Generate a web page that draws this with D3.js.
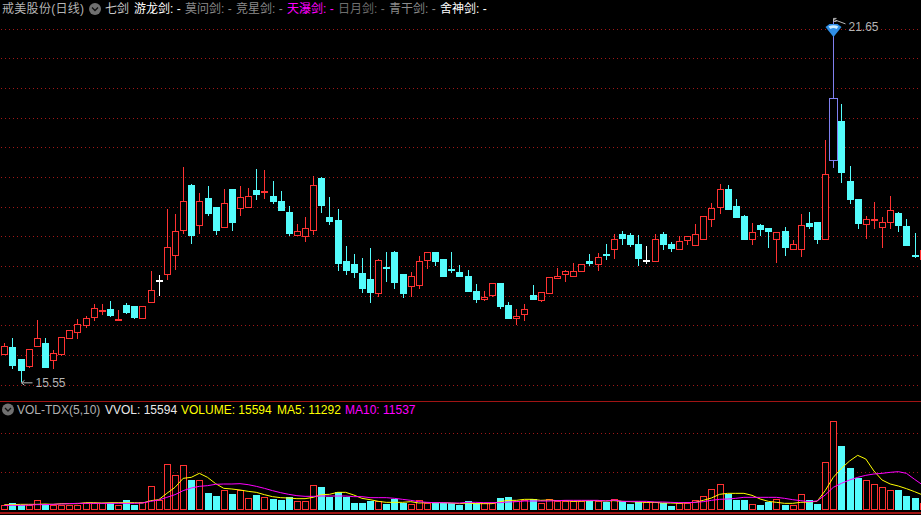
<!DOCTYPE html>
<html><head><meta charset="utf-8">
<script src="https://cdn.jsdelivr.net/npm/d3@7/dist/d3.min.js"></script>
<style>html,body{margin:0;padding:0;background:#000;overflow:hidden}svg{display:block}text{font-family:"Liberation Sans","Noto Sans CJK SC",sans-serif}</style>
</head><body><svg id="c" width="921" height="515"></svg>
<script>
const opens=[16.02,16.15,15.94,15.83,16.15,16.21,15.92,16.03,16.30,16.39,16.51,16.64,16.76,16.79,16.61,16.85,16.84,16.64,16.89,17.28,17.38,17.70,18.11,18.88,18.19,18.66,18.51,18.17,18.81,18.48,18.51,18.79,18.77,18.69,18.61,18.42,18.04,18.01,18.11,18.99,18.34,18.29,17.60,17.54,17.39,17.29,17.06,17.49,17.75,17.38,17.17,17.19,17.61,17.75,17.63,17.46,17.41,17.34,17.09,16.95,17.01,17.23,16.85,16.62,16.69,17.02,16.94,17.05,17.31,17.37,17.33,17.43,17.60,17.55,17.71,17.79,18.05,18.03,17.88,17.61,17.60,18.05,17.88,17.80,17.94,17.87,17.96,18.29,18.49,18.81,18.52,18.35,17.97,18.20,18.15,17.97,18.10,17.79,17.80,18.24,18.25,17.97,19.30,19.96,18.94,18.64,18.21,18.29,18.17,18.24,18.40,18.19,17.70,17.63];
const highs=[16.21,16.30,15.94,16.11,16.60,16.30,16.10,16.31,16.44,16.62,16.67,16.87,16.87,16.92,16.77,16.89,16.84,16.84,17.43,17.36,18.47,18.39,19.18,18.89,18.74,18.86,18.51,18.81,18.81,18.86,18.83,19.15,19.13,18.94,18.78,18.52,18.22,18.34,19.03,19.01,18.67,18.47,17.85,17.71,17.65,17.81,17.63,17.75,17.76,17.38,17.41,17.68,17.74,17.75,17.63,17.75,17.53,17.44,17.21,17.09,17.22,17.23,16.90,16.79,16.87,17.19,17.07,17.32,17.48,17.44,17.56,17.54,17.71,17.73,17.88,18.05,18.10,18.07,18.03,17.85,18.05,18.08,17.92,18.02,18.01,18.22,18.35,18.57,18.89,18.88,18.64,18.37,18.24,18.22,18.15,18.08,18.17,17.95,18.39,18.42,18.25,19.63,21.65,20.24,19.20,18.64,18.35,18.59,18.34,18.69,18.42,18.30,18.07,17.78];
const lows=[16.02,15.78,15.55,15.80,16.15,15.80,15.78,16.00,16.28,16.28,16.47,16.58,16.69,16.65,16.58,16.71,16.62,16.64,16.89,17.01,17.28,17.44,18.05,17.88,18.05,18.35,18.03,18.17,18.10,18.35,18.49,18.62,18.64,18.56,18.44,18.02,18.01,17.92,18.03,18.40,18.20,17.43,17.36,17.31,17.06,16.89,16.99,17.24,17.12,16.97,16.99,17.12,17.46,17.51,17.33,17.39,17.33,17.09,16.89,16.92,16.99,16.79,16.63,16.52,16.58,16.94,16.90,17.05,17.29,17.24,17.33,17.43,17.51,17.43,17.61,17.63,17.87,17.83,17.51,17.54,17.58,17.78,17.75,17.80,17.87,17.87,17.96,18.17,18.39,18.46,18.34,17.97,17.87,18.02,17.81,17.56,17.68,17.79,17.66,18.13,17.88,17.97,19.16,18.91,18.56,18.13,17.97,18.13,17.81,18.13,18.08,17.87,17.65,17.63];
const closes=[16.16,15.85,15.76,16.11,16.29,15.80,16.04,16.31,16.44,16.53,16.63,16.80,16.77,16.69,16.62,16.74,16.65,16.84,17.10,17.28,17.83,18.10,18.60,18.04,18.60,18.40,18.13,18.57,18.25,18.67,18.69,18.72,18.78,18.61,18.46,18.07,18.10,18.15,18.87,18.54,18.27,17.56,17.44,17.41,17.14,17.07,17.61,17.48,17.24,17.06,17.34,17.59,17.74,17.60,17.34,17.45,17.34,17.09,16.96,16.98,17.22,16.85,16.63,16.66,16.78,16.96,17.07,17.32,17.35,17.42,17.42,17.54,17.56,17.67,17.70,17.96,17.98,17.88,17.65,17.61,17.97,17.88,17.81,17.94,18.01,18.05,18.35,18.48,18.80,18.47,18.34,17.97,18.08,18.13,18.10,18.08,17.83,17.88,18.20,18.19,17.97,19.06,20.34,19.10,18.64,18.24,18.30,18.30,18.25,18.45,18.19,17.87,17.69,17.78];
const volumes=[4080,5760,4080,4080,7680,5040,4080,4560,4560,4560,6000,5760,5520,5520,4560,7920,4560,6480,17760,7920,33600,25920,32880,22320,22080,12960,10800,14880,12240,14880,9120,11520,9840,8640,7920,9840,6960,6960,18480,17280,10080,13680,10080,5760,5760,7200,7200,5040,8640,5760,4800,7680,5760,5760,5760,5760,4320,7200,5760,5520,5760,9360,10080,6960,7920,8640,5760,8400,7200,7200,7200,7200,7200,7200,6480,8400,7200,5040,6480,6480,6240,5760,3600,5760,5760,7680,10560,15600,19200,12240,7920,7920,4800,4320,6480,8400,4320,4080,12000,7920,5040,35040,64560,46800,30960,23760,22080,19200,17040,14880,15120,10800,9360,5520];
const ma5=[4560,4560,4800,4800,4800,5040,4800,5280,5280,5280,6000,6000,5760,6000,6000,6000,6000,5760,7440,8160,12720,17040,23520,24240,27120,24240,19680,16320,15840,15120,14160,13440,11760,10320,9600,9360,8880,8880,9840,11760,12000,13440,13440,11520,9120,8160,6960,6240,6240,6240,6720,5760,6000,6000,6000,5760,5280,5760,5280,5280,5280,6720,7680,7680,8400,8400,7680,7920,7440,7440,6960,7200,7440,7440,7200,7440,6960,6720,6480,6240,6240,5760,5760,5520,6000,6240,7680,9360,12000,12720,12720,12720,11280,8640,6960,6240,5520,5520,6240,6480,6960,14640,24240,30720,36000,40080,37440,28800,22320,19440,18000,16080,13920,11520];
const ma10=[4080,4080,4080,4320,4560,4560,4800,5040,5280,5520,5520,5520,5520,5520,5520,5520,5520,5760,6960,7920,9840,11760,14640,16560,17760,18240,19200,19440,19440,19680,18960,17760,16320,14640,13200,12000,11040,10560,10560,10800,10800,10800,10800,10320,10320,9600,9600,9600,9120,8400,7680,6720,6240,6000,6000,5760,5760,6240,6240,6000,6000,6000,6480,6720,7200,7200,7200,7200,7440,7680,7680,7680,7680,7680,7200,7920,6960,6960,6960,6960,6480,6480,6240,6000,6000,6240,6720,7680,8400,8640,9120,9840,9840,9840,9840,9840,9120,8160,7440,6720,7200,11520,17040,19920,22320,24240,25680,26640,27120,27840,28320,27120,22800,18720];
const priceGrid=[15.5,16,16.5,17,17.5,18,18.5,19,19.5,20,20.5,21,21.5];
const volGrid=[28080,56160];
const headerLeft="戒美股份(日线)", swordMenu="七剑";
const swords=[["游龙剑: -","#ffffff"],["莫问剑: -","#8a8a8a"],["竞星剑: -","#8a8a8a"],["天瀑剑: -","#ff00ff"],["日月剑: -","#6e6e6e"],["青干剑: -","#8a8a8a"],["舍神剑: -","#ffffff"]];
const legend=[["VOL-TDX(5,10)","#b0b0b0"],["VVOL: 15594","#e8e8e8"],["VOLUME: 15594","#ffff00"],["MA5: 11292","#ffff00"],["MA10: 11537","#ff00ff"]];

const svg=d3.select("#c");
svg.append("rect").attr("width",921).attr("height",515).attr("fill","#000");
const idx=d3.range(opens.length);
const x=d3.scaleLinear().domain([0,opens.length-1]).range([4.33,922.7]);
const px=i=>Math.round(x(i))+.5;
const y=d3.scaleLinear().domain([15.5,21.5]).range([385.3,29.3]);
const yv=d3.scaleLinear().domain([0,56160]).range([511,433]);
const snap=v=>Math.round(v)+.5;
const RED="#ff3232",CY="#54fcfc",PUR="#8080f0";
const dots=g=>g.attr("stroke","#a01818").attr("stroke-width",1).attr("stroke-dasharray","1 3");
dots(svg.append("g").selectAll("line").data(priceGrid).join("line").attr("x1",1).attr("x2",921).attr("y1",d=>snap(y(d)-.5)).attr("y2",d=>snap(y(d)-.5)));
dots(svg.append("g").selectAll("line").data(volGrid).join("line").attr("x1",1).attr("x2",921).attr("y1",d=>snap(yv(d)-.5)).attr("y2",d=>snap(yv(d)-.5)));
svg.append("line").attr("x1",0).attr("x2",921).attr("y1",401.5).attr("y2",401.5).attr("stroke","#a01414");

const selected=d3.greatest(idx,i=>highs[i]);
const colorOf=i=>i===selected?PUR:(closes[i]===opens[i]?"#fff":(closes[i]>opens[i]?RED:CY));
const g=svg.append("g").attr("shape-rendering","crispEdges");
g.selectAll("line").data(idx).join("line").attr("x1",px).attr("x2",px).attr("y1",i=>y(highs[i])).attr("y2",i=>y(lows[i])).attr("stroke",colorOf);
g.selectAll("rect").data(idx).join("rect")
 .attr("x",i=>px(i)-(i===selected?4:3)).attr("width",i=>i===selected?8:6)
 .attr("y",i=>snap(y(Math.max(opens[i],closes[i]))))
 .attr("height",i=>Math.max(1,Math.round(Math.abs(y(opens[i])-y(closes[i])))))
 .attr("fill",i=>closes[i]>opens[i]||i===selected?"#000":colorOf(i))
 .attr("stroke",colorOf);

const v=svg.append("g").attr("shape-rendering","crispEdges");
v.selectAll("rect").data(idx).join("rect")
 .attr("x",i=>px(i)-3).attr("width",6)
 .attr("y",i=>snap(yv(volumes[i]))).attr("height",i=>509.5-snap(yv(volumes[i])))
 .attr("fill",i=>closes[i]>=opens[i]?"#000":CY)
 .attr("stroke",i=>closes[i]>=opens[i]?RED:CY);
svg.append("line").attr("x1",0).attr("x2",921).attr("y1",513).attr("y2",513).attr("stroke","#a01414").attr("stroke-width",2);
const line=a=>d3.line().x(i=>x(i)).y(i=>yv(a[i])).curve(d3.curveLinear)(idx);
svg.append("path").attr("d",line(ma5)).attr("fill","none").attr("stroke","#ffff00");
svg.append("path").attr("d",line(ma10)).attr("fill","none").attr("stroke","#ff00ff");

// high / low markers
const lo=d3.least(idx,i=>lows[i]);
const hx=px(selected), hy=y(highs[selected]), lx=px(lo), ly=y(lows[lo]);
const d=svg.append("g").attr("transform",`translate(${hx},${hy+3.6})`);
d.append("path").attr("d","M-8,3 L-4,0 L4,0 L8,3 L0,13Z").attr("fill","#2f8fe8");
d.append("path").attr("d","M-5,2.5 Q0,0 5,2.5 L3,5 Q0,3 -3,5Z").attr("fill","#cfeeff");
svg.append("path").attr("d",`M${hx+3},${hy-2}H${hx} V${hy+1} H${hx+3} M${hx},${hy-1}L${hx+12},${hy+3.5}`).attr("stroke","#b8b8b8").attr("fill","none");
svg.append("text").attr("x",hx+15).attr("y",hy+10.5).attr("fill","#b4b4b4").attr("font-size",12).text(highs[selected].toFixed(2));
svg.append("path").attr("d",`M${lx+11},${ly+.5}H${lx} M${lx+3},${ly-2}L${lx},${ly+.5}L${lx+3},${ly+3}`).attr("stroke","#b8b8b8").attr("fill","none");
svg.append("text").attr("x",lx+14).attr("y",ly+5).attr("fill","#b4b4b4").attr("font-size",12).text(lows[lo].toFixed(2));

// header and legend
const chev=(cx,cy)=>{svg.append("circle").attr("cx",cx).attr("cy",cy).attr("r",6).attr("fill","#707070");
 svg.append("path").attr("d",`M${cx-3},${cy-1.5}L${cx},${cy+1.5}L${cx+3},${cy-1.5}`).attr("fill","none").attr("stroke","#111").attr("stroke-width",1.3);};
const T=(s,xx,yy,c,f=12)=>svg.append("text").attr("x",xx).attr("y",yy).attr("fill",c).attr("font-size",f).text(s);
T(headerLeft,2,13,"#b4b4b4").attr("letter-spacing",.3);chev(95,9);T(swordMenu,105,13,"#c8c8c8");
svg.append("g").selectAll("text").data(swords).join("text").attr("x",(s,i)=>134+i*51).attr("y",13).attr("fill",s=>s[1]).attr("font-size",12).text(s=>s[0]);
chev(8,409.5);
const legendX=[17,105,181,277,345];
svg.append("g").selectAll("text").data(legend).join("text").attr("x",(s,i)=>legendX[i]).attr("y",414).attr("fill",s=>s[1]).attr("font-size",12).text(s=>s[0]);
</script></body></html>
